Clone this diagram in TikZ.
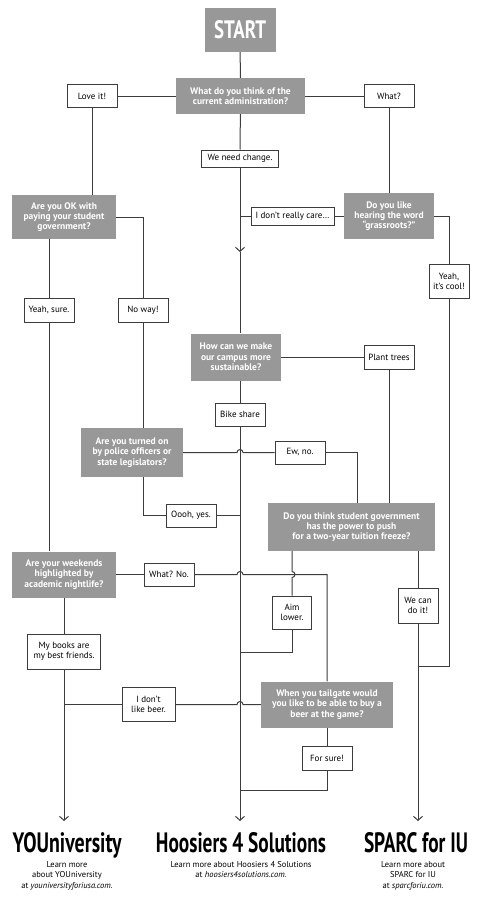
\documentclass[tikz,border=0pt]{standalone}
\usepackage{fontspec}
\setmainfont{PT Sans}
\usepackage{graphicx}
\usetikzlibrary{arrows.meta,positioning}
\definecolor{qgray}{RGB}{152,152,152}
\definecolor{lgray}{RGB}{60,60,60}

\begin{document}
\begin{tikzpicture}[
  x=1pt, y=-1pt,
  every node/.style={anchor=center, inner sep=0pt},
  quest/.style={fill=qgray, text=white, font=\fontsize{9.5}{10.3}\selectfont\bfseries, align=center},
  answ/.style={draw=lgray, line width=1pt, fill=white, minimum width=50pt, minimum height=23pt,
    font=\fontsize{9}{10}\selectfont, align=center},
  link/.style={draw=lgray, line width=1pt},
  tip/.style={link, -{Straight Barb[length=4pt,width=9pt]}},
  party/.style={font=\bfseries, anchor=base},
  blurb/.style={font=\fontsize{8.5}{10.5}\selectfont, align=center}
]
  \useasboundingbox (0,0) rectangle (480,899);

  % --- questions and answers ---
  \node (start) [quest, minimum width=71pt, minimum height=44pt] at (240,30) {\resizebox{52pt}{18pt}{START}};
  \node (admin) [quest, minimum width=129pt, minimum height=36pt] at (240.5,96) {What do you think of the\\current administration?};
  \node (love) [answ] at (92,96) {Love it!};
  \node (what) [answ] at (389,96) {What?};
  \node (change) [answ, minimum width=77pt, minimum height=17pt] at (240,158.5) {We need change.};

  \node (okpay) [quest, minimum width=104pt, minimum height=44pt] at (64,217) {Are you OK with\\paying your student\\government?};
  \node (grass) [quest, minimum width=90pt, minimum height=46pt] at (389,216) {Do you like\\hearing the word\\“grassroots?”};
  \node (care) [answ, minimum width=83pt, minimum height=18pt] at (292.5,216) {I don’t really care…};
  \node (cool) [answ, minimum width=40pt, minimum height=34pt] at (449,281) {Yeah,\\it’s cool!};
  \node (sure) [answ, minimum height=24pt] at (49,310) {Yeah, sure.};
  \node (noway) [answ, minimum height=24pt] at (143,310) {No way!};

  \node (sustain) [quest, minimum width=90pt, minimum height=47pt] at (236,357) {How can we make\\our campus more\\sustainable?};
  \node (trees) [answ, minimum height=24pt] at (389,357) {Plant trees};
  \node (bike) [answ] at (240,414.5) {Bike share};
  \node (police) [quest, minimum width=102pt, minimum height=49pt] at (132,452.5) {Are you turned on\\by police officers or\\state legislators?};
  \node (ew) [answ] at (300,452.5) {Ew, no.};
  \node (oooh) [answ] at (191,515.5) {Oooh, yes.};

  \node (freeze) [quest, minimum width=167pt, minimum height=48pt] at (351.5,527) {Do you think student government\\has the power to push\\for a two-year tuition freeze?};
  \node (nightlife) [quest, minimum width=104pt, minimum height=46pt] at (64,574.5) {Are your weekends\\highlighted by\\academic nightlife?};
  \node (whatno) [answ] at (169,574.5) {What? No.};
  \node (aim) [answ, minimum width=39pt, minimum height=33pt] at (292,612.5) {Aim\\lower.};
  \node (cando) [answ, minimum width=40pt, minimum height=35pt] at (418,605.5) {We can\\do it!};
  \node (books) [answ, minimum width=73pt, minimum height=35pt] at (64,651.5) {My books are\\my best friends.};
  \node (beer) [answ, minimum width=53pt, minimum height=34pt] at (148.5,704.5) {I don’t\\like beer.};
  \node (tailgate) [quest, minimum width=132pt, minimum height=46pt] at (327,704.5) {When you tailgate would\\you like to be able to buy a\\beer at the game?};
  \node (forsure) [answ, minimum height=24pt] at (327,758.5) {For sure!};

  % --- results ---
  \node (you) [party] at (67,852) {\resizebox{109pt}{20pt}{YOUniversity}};
  \node (h4s) [party] at (241,852) {\resizebox{170pt}{20pt}{Hoosiers 4 Solutions}};
  \node (sparc) [party] at (416,852) {\resizebox{104pt}{20pt}{SPARC for IU}};
  \node (youtxt) [blurb, below=9pt of you.base] {Learn more\\about YOUniversity\\at \textit{youniversityforiusa.com.}};
  \node (h4stxt) [blurb, below=9pt of h4s.base] {Learn more about Hoosiers 4 Solutions\\at \textit{hoosiers4solutions.com.}};
  \node (sparctxt) [blurb, below=9pt of sparc.base, xshift=-3pt] {Learn more about\\SPARC for IU\\at \textit{sparcforiu.com.}};

  \coordinate (midtip) at (240,252);
  \coordinate (sparcjoin) at (418,666.5);
  \coordinate (aimjoin) at (240,652.5);
  \coordinate (surejoin) at (240,790.5);
  \coordinate (youtip) at (64,821);
  \coordinate (h4stip) at (240,821);
  \coordinate (sparctip) at (418,821);

  % --- connectors ---
  \draw[link] (start) -- (admin);
  \draw[link] (admin) -- (love);
  \draw[link] (admin) -- (what);
  \draw[link] (admin) -- (change);
  \draw[tip] (change) -- (midtip);
  \draw[link] (midtip) -- (change |- sustain.north);

  \draw[link] (love.south) -- (love.south |- okpay.north);
  \draw[link] (okpay.east) -| (noway.north);
  \draw[link] (okpay.south -| sure) -- (sure);
  \draw[link] (what) -- (grass);
  \draw[link] (grass) -- (care);
  \draw[link] (care.west) -- (care.west -| change);
  \draw[link] (grass.east) -| (cool.north);
  \draw[link] (cool.south) |- (sparcjoin);

  \draw[link] (sustain) -- (trees);
  \draw[link] (trees.south) -- (trees.south |- freeze.north);
  \draw[link] (sustain.south -| bike) -- (bike);
  \draw[tip] (bike) -- (h4stip);
  \draw[link] (noway) -- (noway |- police.north);
  \draw[link] (police.east) -- ([xshift=-3pt]police.east -| bike) arc[start angle=180, end angle=0, radius=3pt] -- (ew.west);
  \draw[link] (ew.east) -| ([xshift=5.5pt]freeze.north);
  \draw[link] (police.south -| noway) |- (oooh.west);
  \draw[link] (oooh.east) -- (oooh.east -| bike);

  \draw[link] (freeze.south -| aim) -- ([yshift=3pt]whatno.east -| aim) arc[start angle=90, end angle=-90, radius=3pt] -- (aim.north);
  \draw[link] (freeze.south -| cando) -- (cando);
  \draw[link] (aim.south) |- (aimjoin);
  \draw[tip] (cando) -- (sparctip);
  \draw[link] (sure) -- (sure |- nightlife.north);
  \draw[link] (nightlife) -- (whatno);
  \draw[link] (whatno.east) -- ([xshift=-3pt]whatno.east -| bike) arc[start angle=180, end angle=0, radius=3pt] -| (tailgate.north);
  \draw[link] (nightlife) -- (books);
  \draw[tip] (books) -- (youtip);
  \draw[link] (beer.west) -- (beer.west -| books);
  \draw[link] (beer.east) -- ([xshift=-3pt]beer.east -| bike) arc[start angle=180, end angle=0, radius=3pt] -- (tailgate.west);
  \draw[link] (tailgate) -- (forsure);
  \draw[link] (forsure.south) |- (surejoin);
\end{tikzpicture}
\end{document}
